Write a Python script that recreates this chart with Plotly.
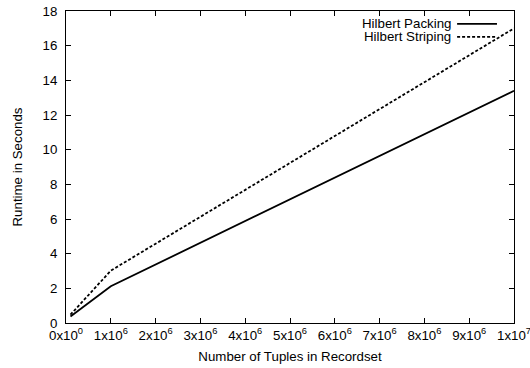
import plotly.graph_objects as go

# Recordset sizes (number of tuples) and measured runtimes (seconds)
tuples = [1e5, 1e6, 1e7]
packing_runtime = [0.38, 2.12, 13.4]
striping_runtime = [0.48, 3.02, 17.0]

x_ticks = [0, 1e6, 2e6, 3e6, 4e6, 5e6, 6e6, 7e6, 8e6, 9e6, 1e7]
x_tick_text = ["0x10<sup>0</sup>"] + [f"{i}x10<sup>6</sup>" for i in range(1, 10)] + ["1x10<sup>7</sup>"]
y_ticks = list(range(0, 19, 2))

series = [
    ("Hilbert Packing", packing_runtime, "solid"),
    ("Hilbert Striping", striping_runtime, "3px,2px"),
]

FONT = "Liberation Sans, Arial, Helvetica, sans-serif"
FS = 13.3

fig = go.Figure()
for name, values, dash in series:
    fig.add_trace(go.Scatter(
        x=tuples, y=values, mode="lines", name=name,
        line=dict(color="black", width=1.8, dash=dash),
        showlegend=False,
    ))

# gnuplot-style key: right-aligned label followed by a line sample
key_rows = [(0.959, "Hilbert Packing", "solid"), (0.917, "Hilbert Striping", "3px,2px")]
for y, label, dash in key_rows:
    fig.add_annotation(xref="paper", yref="paper", x=0.864, y=y, text=label,
                       showarrow=False, xanchor="right", yanchor="middle",
                       font=dict(family=FONT, size=FS, color="black"))
    fig.add_shape(type="line", xref="paper", yref="paper",
                  x0=0.873, x1=0.962, y0=y, y1=y,
                  line=dict(color="black", width=1.8, dash=dash))

axis_common = dict(
    showgrid=False, zeroline=False, showline=True, linecolor="black", linewidth=1,
    mirror="ticks", ticks="inside", ticklen=5, tickcolor="black", tickwidth=1,
    tickfont=dict(family=FONT, size=FS, color="black"),
    automargin=False, ticklabeloverflow="allow",
)

fig.update_layout(
    width=530, height=368,
    margin=dict(l=66, r=16, t=11, b=45),
    paper_bgcolor="white", plot_bgcolor="white",
    font=dict(family=FONT, size=FS, color="black"),
    xaxis=dict(range=[0, 1e7], tickvals=x_ticks, ticktext=x_tick_text,
               ticklabelstandoff=0,
               title=dict(text="Number of Tuples in Recordset", standoff=9,
                          font=dict(family=FONT, size=FS)),
               **axis_common),
    yaxis=dict(range=[0, 18], tickvals=y_ticks, ticklabelstandoff=5,
               title=dict(text="Runtime in Seconds", standoff=16,
                          font=dict(family=FONT, size=FS)),
               **axis_common),
)

fig.write_html("out.html")
